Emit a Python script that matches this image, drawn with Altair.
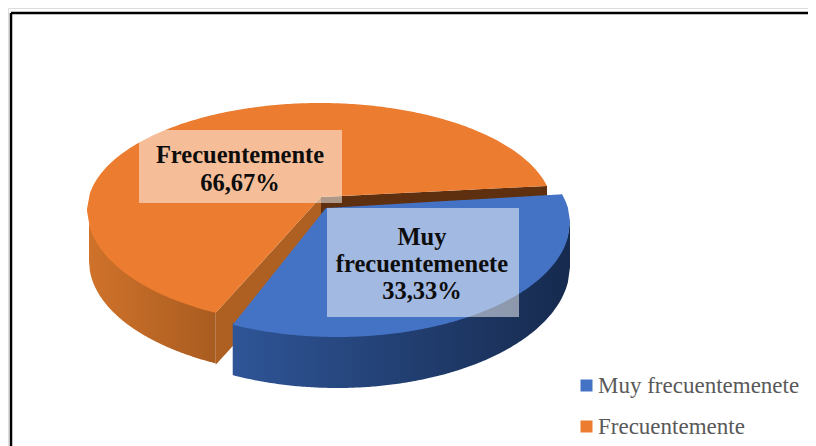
import numpy as np
import pandas as pd
import altair as alt

# values
categories = ["Muy frecuentemenete", "Frecuentemente"]
shares = [33.33, 66.67]
colors = ["#4472c4", "#eb7c30"]
label_lines = [["Muy", "frecuentemenete", "33,33%"], ["Frecuentemente", "66,67%"]]

# view geometry of the tilted pie (picture pixels)
CX, CY, RX, RY_UP, RY_DOWN = 320.0, 210.0, 233.0, 107.0, 115.0
START_DEG = 13.0        # first boundary, above the horizontal
BLUE_START_DEG = 15.0
FORESHORTEN = 0.96      # tilted view narrows the angle of the large slice
EXPLODE = (17.0, 12.0)
THICK = 52.0
APEX_O = (321.0, 197.0)
APEX_B = (326.0, 208.0)
VIEW_R, VIEW_B = 808, 446


def upper(x, cx, cy, rx=RX, ry=RY_UP):
    return cy - ry * np.sqrt(np.clip(1 - ((x - cx) / rx) ** 2, 0, 1))


def lower(x, cx, cy, rx=RX, ry=RY_DOWN):
    return cy + ry * np.sqrt(np.clip(1 - ((x - cx) / rx) ** 2, 0, 1))


def on_ellipse(deg, cx, cy):
    t = np.radians(deg)
    s = np.sin(t)
    return cx + RX * np.cos(t), cy - (RY_UP if s > 0 else RY_DOWN) * s


sweep_o = shares[1] * 3.6 * FORESHORTEN
end_deg = START_DEG + sweep_o
o_right = on_ellipse(START_DEG, CX, CY)
o_tip = on_ellipse(end_deg, CX, CY)
bcx, bcy = CX + EXPLODE[0], CY + EXPLODE[1]
b_right = on_ellipse(BLUE_START_DEG, bcx, bcy)
b_tip = on_ellipse(end_deg, bcx, bcy)


def seg(x, a, b):
    return a[1] + (x - a[0]) * (b[1] - a[1]) / (b[0] - a[0])


def grid(lo, hi, *stops, n=160):
    return np.unique(np.concatenate([np.linspace(lo, hi, n), np.array(stops, dtype=float)]))


# orange top
xo = grid(CX - RX + 0.01, o_right[0], o_tip[0], APEX_O[0])
orange_top = pd.DataFrame({
    "x": xo,
    "y": upper(xo, CX, CY),
    "y2": np.where(xo <= o_tip[0], lower(xo, CX, CY),
                   np.where(xo <= APEX_O[0], seg(xo, o_tip, APEX_O), seg(xo, APEX_O, o_right))),
    "cat": categories[1],
})

# orange outer wall
xw = grid(CX - RX + 2, o_tip[0])
orange_wall = pd.DataFrame({
    "x": xw,
    "y": lower(xw, CX, CY) - 2,
    "y2": lower(xw, CX + 2, CY + THICK - 1),
})

# orange cut faces
xi = grid(o_tip[0], APEX_O[0], n=8)
orange_inner = pd.DataFrame({"x": xi, "y": seg(xi, o_tip, APEX_O), "y2": seg(xi, o_tip, APEX_O) + THICK})
xb = grid(APEX_O[0], o_right[0], n=8)
orange_back = pd.DataFrame({"x": xb, "y": seg(xb, APEX_O, o_right), "y2": seg(xb, APEX_O, o_right) + THICK})

# blue top
xt = grid(b_tip[0], bcx + RX - 0.01, APEX_B[0], b_right[0])
blue_top = pd.DataFrame({
    "x": xt,
    "y": np.where(xt <= APEX_B[0], seg(xt, b_tip, APEX_B),
                  np.where(xt <= b_right[0], seg(xt, APEX_B, b_right), upper(xt, bcx, bcy))),
    "y2": lower(xt, bcx, bcy),
    "cat": categories[0],
})

# blue outer wall
xbw = grid(b_tip[0], bcx + RX - 0.01)
blue_wall = pd.DataFrame({
    "x": xbw,
    "y": lower(xbw, bcx, bcy) - 2,
    "y2": lower(xbw, bcx, bcy + 44, RX, 122),
})

boxes = pd.DataFrame({"x": [139, 327], "x2": [342, 519], "y": [130, 208], "y2": [203, 317]})
texts = pd.DataFrame({
    "x": [240, 240, 422, 422, 422],
    "y": [163, 191, 245, 272, 299],
    "t": label_lines[1] + label_lines[0],
})

X = alt.X("x:Q", scale=alt.Scale(domain=[8, VIEW_R], nice=False, zero=False), axis=None)
Y = alt.Y("y:Q", scale=alt.Scale(domain=[VIEW_B, 8], nice=False, zero=False), axis=None)
Y2 = alt.Y2("y2:Q")


def solid(df, color):
    return alt.Chart(df).mark_area(color=color, orient="vertical", opacity=1).encode(x=X, y=Y, y2=Y2)


def grad(df, c0, c1):
    g = alt.LinearGradient(gradient="linear", x1=0, x2=1, y1=0, y2=0,
                           stops=[alt.GradientStop(color=c0, offset=0), alt.GradientStop(color=c1, offset=1)])
    return alt.Chart(df).mark_area(color=g, orient="vertical", opacity=1).encode(x=X, y=Y, y2=Y2)


color = alt.Color("cat:N",
                  scale=alt.Scale(domain=categories, range=colors),
                  legend=alt.Legend(title=None, orient="none", legendX=567, legendY=366,
                                    symbolType="square", symbolSize=144, symbolStrokeWidth=0,
                                    symbolOpacity=1, labelFont="Liberation Serif", labelFontSize=23,
                                    labelColor="#595959", rowPadding=17, labelLimit=300, labelOffset=0))


def top(df):
    return alt.Chart(df).mark_area(orient="vertical", opacity=1).encode(x=X, y=Y, y2=Y2, color=color)


frame_top = alt.Chart(pd.DataFrame({"x": [11], "x2": [VIEW_R], "y": [13]})).mark_rule(
    color="#000000", strokeWidth=2.5).encode(x=X, x2="x2:Q", y=Y)
frame_left = alt.Chart(pd.DataFrame({"x": [11], "y": [13], "y2": [VIEW_B]})).mark_rule(
    color="#000000", strokeWidth=2.5).encode(x=X, y=Y, y2=Y2)

box_layer = alt.Chart(boxes).mark_rect(color="#ffffff", opacity=0.5).encode(x=X, x2="x2:Q", y=Y, y2=Y2)
text_layer = alt.Chart(texts).mark_text(font="Liberation Serif", fontWeight="bold", fontSize=24.5,
                                        color="#0d0d0d", align="center", baseline="alphabetic").encode(
    x=X, y=Y, text="t:N")

chart = alt.layer(
    solid(orange_back, "#5f3010"),
    solid(orange_inner, "#ae5f22"),
    grad(orange_wall, "#cf722b", "#a95c20"),
    top(orange_top),
    grad(blue_wall, "#2f5597", "#162a4e"),
    top(blue_top),
    box_layer,
    text_layer,
    frame_top,
    frame_left,
).properties(width=VIEW_R - 8, height=VIEW_B - 8, padding=0,
             autosize=alt.AutoSizeParams(type="none", contains="padding")
).configure_view(stroke=None).configure(background="#ffffff")

chart.save("out.html", embed_options={"renderer": "svg", "actions": False})
